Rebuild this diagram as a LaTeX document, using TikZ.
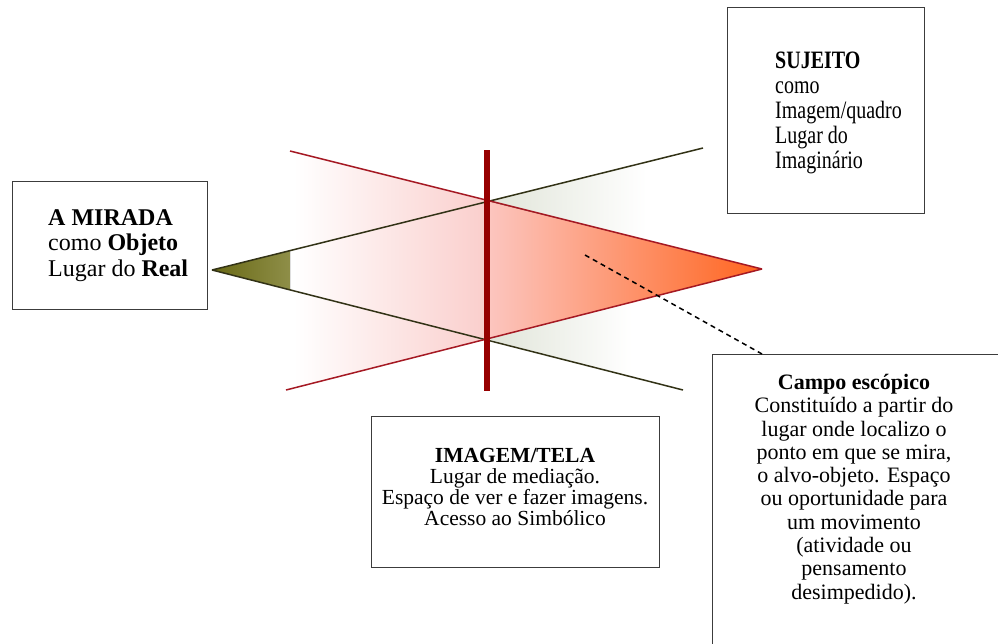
\documentclass[tikz,border=0pt]{standalone}
\usepackage{fontspec}
\setmainfont{Liberation Serif}
\newfontfamily\condserif[FakeStretch=0.8]{Liberation Serif}
\usetikzlibrary{calc}
\definecolor{olivefillA}{RGB}{105,105,20}
\definecolor{olivefillB}{RGB}{142,142,72}
\definecolor{oliveline}{RGB}{50,50,22}
\definecolor{redline}{RGB}{165,25,35}
\definecolor{barred}{RGB}{150,0,0}
\definecolor{pinkmid}{RGB}{250,206,204}
\definecolor{pinkstart}{RGB}{252,198,192}
\definecolor{orangeend}{RGB}{255,100,30}
\definecolor{greyfill}{RGB}{224,228,216}
\definecolor{boxline}{RGB}{60,60,60}
\pgfdeclarehorizontalshading{greyfade}{100bp}{color(0bp)=(greyfill); color(25bp)=(greyfill); color(62bp)=(white); color(100bp)=(white)}
\pgfdeclarehorizontalshading{pinkfade}{100bp}{color(0bp)=(white); color(27bp)=(white); color(75bp)=(pinkmid); color(100bp)=(pinkmid)}
\begin{document}
\begin{tikzpicture}[x=1pt,y=-1pt,
  box/.style={draw=boxline, line width=1, anchor=north west, inner sep=0},
  oline/.style={draw=oliveline, line width=1.5},
  rline/.style={draw=redline, line width=1.5},
  txt/.style={inner sep=0}]
\useasboundingbox (0,0) rectangle (998,643);
% geometry
\coordinate (apexL) at (212,270);
\coordinate (apexR) at (762,269);
\coordinate (xTop) at (487,201);
\coordinate (xBot) at (487,339);
\coordinate (oliveTopEnd) at (703,148);
\coordinate (oliveBotEnd) at (683,390);
\coordinate (redTopStart) at (290,151);
\coordinate (redBotStart) at (286,390);
\coordinate (barTop) at (487,150);
\coordinate (barBot) at (487,391);
\coordinate (olBarT) at (290,250.6);
\coordinate (olBarB) at (290,289.9);
\coordinate (greyTopR) at (703,255);
\coordinate (greyBotR) at (683,289);
% fills
\shade[shading=pinkfade] (redTopStart) -- (xTop) -- (xBot) -- (redBotStart) -- cycle;
\fill[left color=olivefillA, right color=olivefillB] (apexL) -- (olBarT) -- (olBarB) -- cycle;
\shade[shading=greyfade] (xTop) -- (oliveTopEnd) -- (greyTopR) -- cycle;
\shade[shading=greyfade] (xBot) -- (oliveBotEnd) -- (greyBotR) -- cycle;
\fill[left color=pinkstart, right color=orangeend] (xTop) -- (apexR) -- (xBot) -- cycle;
% lines
\draw[oline] (apexL) -- (oliveTopEnd);
\draw[oline] (apexL) -- (oliveBotEnd);
\draw[rline] (redTopStart) -- (apexR);
\draw[rline] (apexR) -- (redBotStart);
\draw[barred, line width=6.5] (barTop) -- (barBot);
% boxes
\node[box, minimum width=195, minimum height=128] (mirada) at (12,181) {};
\node[box, minimum width=197, minimum height=206] (sujeito) at (727,7) {};
\node[box, minimum width=288, minimum height=151] (imagem) at (371,416) {};
\node[box, minimum width=300, minimum height=320] (campo) at (712,354) {};
% texts
\node[txt, anchor=north west, align=left, font=\fontsize{24}{25.5}\selectfont] (miradatxt) at (48,209)
  {\textbf{A MIRADA}\\como \textbf{Objeto}\\Lugar do \textbf{Real}};
\node[txt, anchor=north west, align=left, font=\condserif\fontsize{25}{25}\selectfont] (sujeitotxt) at (775,51.5)
  {\textbf{SUJEITO}\\como\\Imagem/quadro\\Lugar do\\Imaginário};
\node[txt, anchor=north, align=center, font=\fontsize{21.5}{21}\selectfont] (imagemtxt) at (515,448)
  {\textbf{IMAGEM/TELA}\\Lugar de mediação.\\Espaço de ver e fazer imagens.\\Acesso ao Simbólico};
\node[txt, anchor=north, align=center, font=\fontsize{22}{23.3}\selectfont] (campotxt) at (854,374)
  {\textbf{Campo escópico}\\Constituído a partir do\\lugar onde localizo o\\ponto em que se mira,\\o alvo-objeto. Espaço\\ou oportunidade para\\um movimento\\(atividade ou\\pensamento\\desimpedido).};
% dashed pointer
\coordinate (dashStart) at (585,255);
\coordinate (dashEnd) at ($(campo.north west)+(50,0)$);
\draw[black, line width=1.5, dash pattern=on 5pt off 4pt] (dashStart) -- (dashEnd);
\end{tikzpicture}
\end{document}
